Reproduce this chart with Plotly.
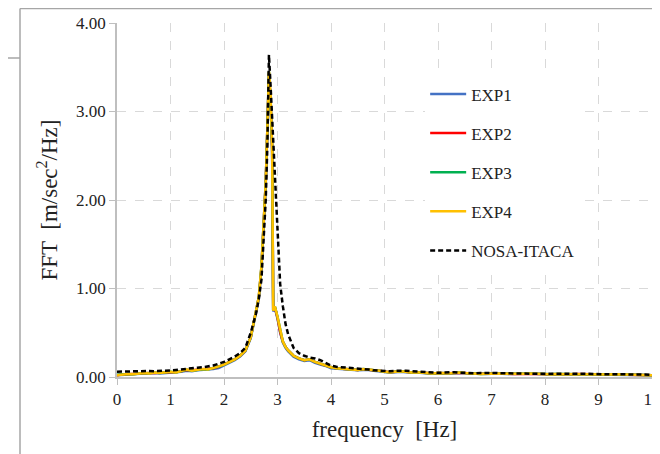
import plotly.graph_objects as go

# frequency axis [Hz] (finer around the resonance peak)
freq = [
    0.0, 0.1, 0.2, 0.3, 0.4, 0.5, 0.6, 0.7, 0.8, 0.9,
    1.0, 1.1, 1.2, 1.3, 1.4, 1.5, 1.6, 1.7, 1.8, 1.9,
    2.0, 2.1, 2.2, 2.3, 2.4,
    2.5, 2.55, 2.6, 2.65, 2.7, 2.74, 2.78, 2.81, 2.84, 2.87, 2.9, 2.92, 2.95,
    3.0, 3.05, 3.1, 3.15, 3.2,
    3.3, 3.4, 3.5, 3.6, 3.7, 3.8, 3.9,
    4.0, 4.1, 4.2, 4.3, 4.4, 4.5, 4.6, 4.7, 4.8, 4.9,
    5.0, 5.1, 5.2, 5.3, 5.4, 5.5, 5.6, 5.7, 5.8, 5.9,
    6.0, 6.1, 6.2, 6.3, 6.4, 6.5, 6.6, 6.7, 6.8, 6.9,
    7.0, 7.1, 7.2, 7.3, 7.4, 7.5, 7.6, 7.7, 7.8, 7.9,
    8.0, 8.1, 8.2, 8.3, 8.4, 8.5, 8.6, 8.7, 8.8, 8.9,
    9.0, 9.1, 9.2, 9.3, 9.4, 9.5, 9.6, 9.7, 9.8, 9.9,
    10.0,
]

exp1 = [
    0.02, 0.025, 0.03, 0.03, 0.035, 0.04, 0.04, 0.045, 0.04, 0.045,
    0.05, 0.05, 0.06, 0.07, 0.065, 0.075, 0.08, 0.08, 0.09, 0.1,
    0.13, 0.16, 0.19, 0.23, 0.29,
    0.44, 0.58, 0.73, 0.88, 1.22, 1.68, 2.18, 2.78, 3.42, 3.15, 2.55, 0.74, 0.78,
    0.66, 0.5, 0.39, 0.33, 0.29,
    0.23, 0.2, 0.18, 0.19, 0.16, 0.14, 0.125,
    0.1, 0.095, 0.09, 0.085, 0.08, 0.075, 0.08, 0.08, 0.07, 0.065,
    0.055, 0.05, 0.055, 0.06, 0.055, 0.048, 0.05, 0.045, 0.042, 0.038,
    0.04, 0.038, 0.04, 0.042, 0.045, 0.042, 0.038, 0.036, 0.033, 0.035,
    0.038, 0.04, 0.037, 0.034, 0.032, 0.033, 0.036, 0.037, 0.034, 0.031,
    0.029, 0.03, 0.033, 0.032, 0.029, 0.03, 0.032, 0.03, 0.027, 0.028,
    0.025, 0.023, 0.026, 0.028, 0.027, 0.024, 0.023, 0.025, 0.024, 0.021,
    0.02,
]

exp2 = [
    0.02, 0.03, 0.03, 0.035, 0.04, 0.04, 0.045, 0.045, 0.05, 0.05,
    0.055, 0.055, 0.065, 0.08, 0.075, 0.08, 0.085, 0.09, 0.1, 0.115,
    0.14, 0.17, 0.2, 0.24, 0.3,
    0.45, 0.6, 0.74, 0.9, 1.24, 1.7, 2.2, 2.8, 3.44, 3.12, 2.58, 0.75, 0.79,
    0.67, 0.51, 0.4, 0.34, 0.3,
    0.24, 0.21, 0.19, 0.2, 0.17, 0.15, 0.13,
    0.11, 0.1, 0.095, 0.09, 0.085, 0.08, 0.088, 0.085, 0.075, 0.07,
    0.06, 0.055, 0.06, 0.063, 0.06, 0.05, 0.054, 0.05, 0.045, 0.04,
    0.044, 0.04, 0.042, 0.045, 0.048, 0.045, 0.04, 0.038, 0.035, 0.038,
    0.04, 0.041, 0.04, 0.036, 0.034, 0.035, 0.038, 0.039, 0.036, 0.033,
    0.03, 0.032, 0.034, 0.034, 0.03, 0.032, 0.033, 0.031, 0.028, 0.03,
    0.026, 0.024, 0.027, 0.029, 0.028, 0.025, 0.024, 0.026, 0.025, 0.022,
    0.02,
]

exp3 = [
    0.025, 0.03, 0.035, 0.03, 0.04, 0.045, 0.042, 0.05, 0.045, 0.05,
    0.058, 0.052, 0.068, 0.082, 0.072, 0.08, 0.088, 0.086, 0.1, 0.118,
    0.14, 0.17, 0.2, 0.24, 0.3,
    0.45, 0.6, 0.75, 0.9, 1.25, 1.7, 2.2, 2.8, 3.45, 3.1, 2.6, 0.75, 0.8,
    0.68, 0.52, 0.4, 0.34, 0.3,
    0.24, 0.21, 0.19, 0.2, 0.17, 0.15, 0.13,
    0.11, 0.1, 0.095, 0.09, 0.085, 0.08, 0.09, 0.085, 0.075, 0.07,
    0.06, 0.055, 0.06, 0.065, 0.06, 0.05, 0.055, 0.05, 0.045, 0.04,
    0.045, 0.04, 0.042, 0.045, 0.05, 0.045, 0.04, 0.038, 0.035, 0.038,
    0.04, 0.042, 0.04, 0.036, 0.034, 0.035, 0.038, 0.04, 0.036, 0.033,
    0.03, 0.032, 0.035, 0.034, 0.03, 0.032, 0.034, 0.031, 0.028, 0.03,
    0.026, 0.024, 0.027, 0.03, 0.028, 0.025, 0.024, 0.026, 0.025, 0.022,
    0.02,
]

exp4 = [
    0.02, 0.03, 0.035, 0.03, 0.04, 0.045, 0.04, 0.05, 0.045, 0.05,
    0.06, 0.05, 0.07, 0.085, 0.07, 0.08, 0.09, 0.085, 0.1, 0.12,
    0.14, 0.17, 0.2, 0.24, 0.3,
    0.45, 0.6, 0.75, 0.9, 1.25, 1.7, 2.2, 2.8, 3.45, 3.2, 2.6, 0.75, 0.8,
    0.68, 0.52, 0.4, 0.34, 0.3,
    0.24, 0.21, 0.19, 0.2, 0.17, 0.15, 0.13,
    0.11, 0.1, 0.095, 0.09, 0.085, 0.08, 0.09, 0.085, 0.075, 0.07,
    0.06, 0.055, 0.06, 0.065, 0.06, 0.05, 0.055, 0.05, 0.045, 0.04,
    0.045, 0.04, 0.042, 0.045, 0.05, 0.045, 0.04, 0.038, 0.035, 0.038,
    0.04, 0.042, 0.04, 0.036, 0.034, 0.035, 0.038, 0.04, 0.036, 0.033,
    0.03, 0.032, 0.035, 0.034, 0.03, 0.032, 0.034, 0.031, 0.028, 0.03,
    0.026, 0.024, 0.027, 0.03, 0.028, 0.025, 0.024, 0.026, 0.025, 0.022,
    0.02,
]

# numerical model
nosa_itaca = [
    0.06, 0.062, 0.065, 0.068, 0.07, 0.07, 0.068, 0.066, 0.067, 0.07,
    0.075, 0.08, 0.088, 0.095, 0.1, 0.105, 0.11, 0.12, 0.13, 0.15,
    0.17, 0.2, 0.23, 0.27, 0.33,
    0.5, 0.6, 0.72, 0.88, 1.1, 1.55, 2.0, 2.6, 3.64, 3.3, 2.9, 2.6, 2.2,
    1.6, 1.05, 0.8, 0.6, 0.48,
    0.33, 0.27, 0.24, 0.22, 0.21, 0.19, 0.16,
    0.13, 0.115, 0.11, 0.105, 0.1, 0.1, 0.095, 0.085, 0.075, 0.07,
    0.065, 0.065, 0.07, 0.072, 0.07, 0.065, 0.06, 0.055, 0.05, 0.048,
    0.048, 0.05, 0.055, 0.055, 0.05, 0.045, 0.042, 0.042, 0.045, 0.047,
    0.047, 0.045, 0.042, 0.04, 0.04, 0.042, 0.04, 0.037, 0.036, 0.036,
    0.036, 0.035, 0.036, 0.038, 0.038, 0.036, 0.037, 0.038, 0.035, 0.032,
    0.03, 0.028, 0.03, 0.032, 0.033, 0.031, 0.029, 0.028, 0.028, 0.027,
    0.026,
]

x_ticks = [0, 1, 2, 3, 4, 5, 6, 7, 8, 9, 10]
y_ticks = [0, 1, 2, 3, 4]

FONT = "Liberation Serif, Times New Roman, serif"
GRID = "#d9d9d9"
AXIS = "#bfbfbf"

series = [
    ("EXP1", exp1, "#4472c4", None),
    ("EXP2", exp2, "#ff0000", None),
    ("EXP3", exp3, "#00b050", None),
    ("EXP4", exp4, "#ffc000", None),
    ("NOSA-ITACA", nosa_itaca, "black", "5px,3px"),
]

fig = go.Figure()
for i, (name, values, color, dash) in enumerate(series):
    fig.add_trace(
        go.Scatter(
            x=freq,
            y=values,
            mode="lines",
            name=name,
            legendgroup="g%d" % i,
            line=dict(color=color, width=2.5, dash=dash),
        )
    )

fig.update_xaxes(
    range=[0, 10],
    tickvals=x_ticks,
    ticks="outside",
    ticklen=6,
    tickcolor=AXIS,
    ticklabeloverflow="allow",
    automargin=False,
    showline=True,
    linecolor=AXIS,
    linewidth=2,
    showgrid=True,
    gridcolor=GRID,
    griddash="dash",
    zeroline=False,
    tickfont=dict(family=FONT, size=17, color="#222"),
    title=dict(
        text="frequency  [Hz]",
        font=dict(family=FONT, size=23, color="#222"),
        standoff=12,
    ),
)
fig.update_yaxes(
    range=[0, 4],
    tickvals=y_ticks,
    tickformat=".2f",
    ticks="outside",
    ticklen=6,
    tickcolor=AXIS,
    ticklabelstandoff=0,
    automargin=False,
    showline=True,
    linecolor=AXIS,
    linewidth=1.5,
    showgrid=True,
    gridcolor=GRID,
    griddash="dash",
    zeroline=False,
    tickfont=dict(family=FONT, size=17, color="#222"),
    title=dict(
        text="FFT  [m/sec<sup>2</sup>/Hz]",
        font=dict(family=FONT, size=23, color="#222"),
        standoff=12,
    ),
)

# page frame around the chart object
frame = dict(type="line", xref="paper", yref="paper", line=dict(color="#a6a6a6", width=1.5))
fig.update_layout(
    shapes=[
        dict(frame, x0=-0.1813, x1=-0.1813, y0=1.041, y1=-0.25),
        dict(frame, x0=-0.1813, x1=1.05, y0=1.041, y1=1.041),
        dict(frame, x0=-0.25, x1=-0.1813, y0=0.901, y1=0.901),
    ]
)

# the page body adds an 8px margin, so the figure is sized to fit the window
fig.update_layout(
    width=652,
    height=446,
    margin=dict(l=109, r=8, t=15, b=77),
    plot_bgcolor="white",
    paper_bgcolor="white",
    showlegend=True,
    legend=dict(
        x=0.576,
        y=0.849,
        xanchor="left",
        yanchor="top",
        bgcolor="white",
        font=dict(family=FONT, size=17, color="#222"),
        tracegroupgap=14,
        itemwidth=36,
    ),
)

fig.write_html("out.html")
